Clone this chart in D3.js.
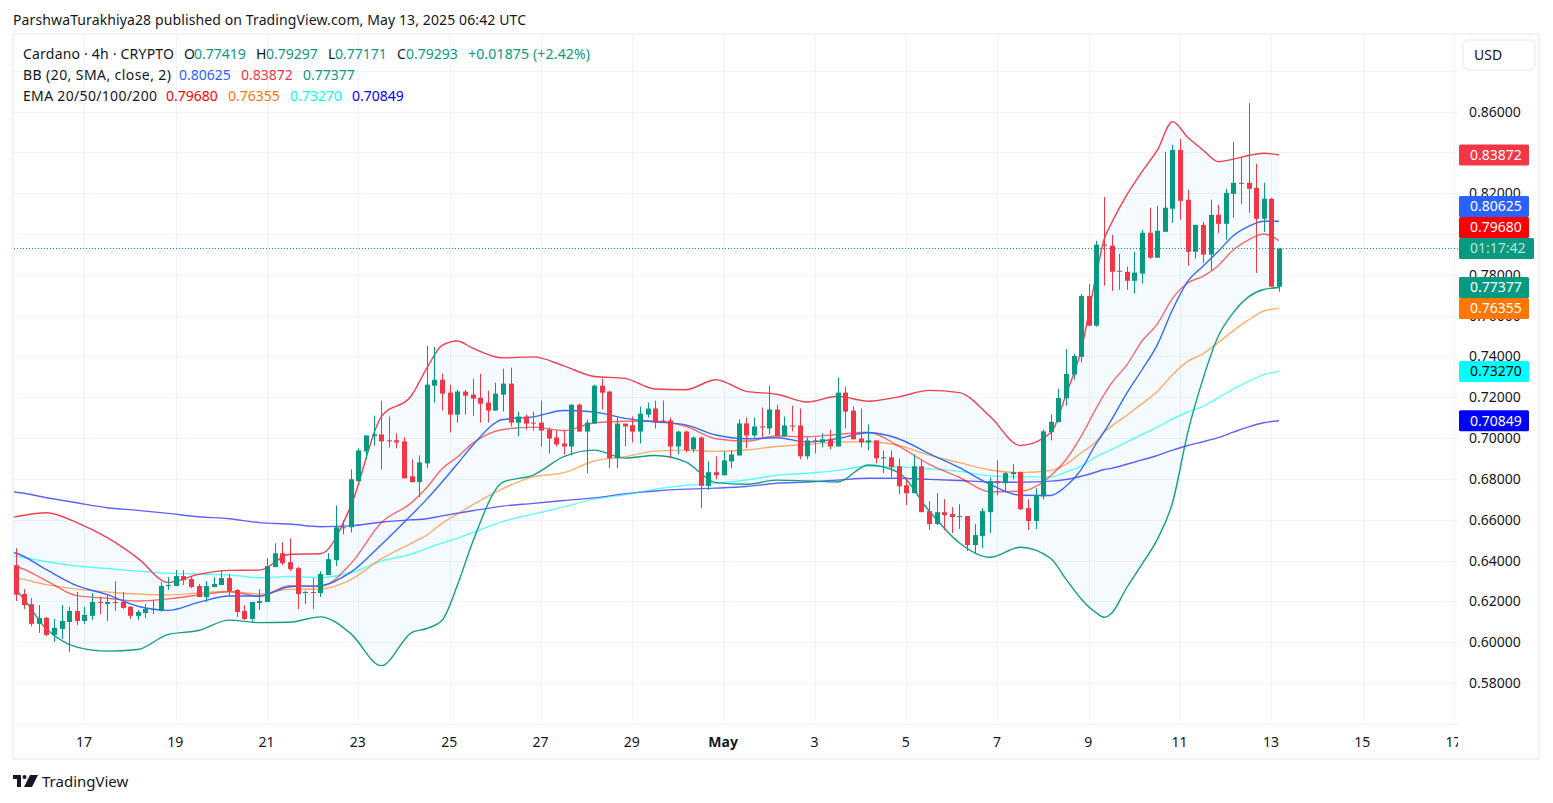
<!DOCTYPE html>
<html>
<head>
<meta charset="utf-8">
<script src="https://cdn.jsdelivr.net/npm/d3@7"></script>
<style>
  html, body { margin: 0; padding: 0; background: #fff; }
  svg { display: block; }
  text { font-family: "Noto Sans", sans-serif; fill: #131722; }
  .axis .domain, .axis line { display: none; }
</style>
</head>
<body>
<svg id="chart" width="1553" height="803"></svg>
<script>
// candles, 4h bars starting Apr 15 12:00 UTC
var opens = [.6377,.6236,.6186,.6090,.6119,.6036,.6065,.6099,.6153,.6104,.6129,.6197,.6187,.6197,.6197,.6173,.6129,.6143,.6158,.6153,
  .6275,.6275,.6324,.6309,.6275,.6221,.6270,.6280,.6314,.6256,.6153,.6114,.6192,.6197,.6368,.6436,.6392,.6363,.6241,.6246,
  .6241,.6329,.6402,.6558,.6563,.6789,.6935,.7010,.7018,.6989,.6989,.6984,.6813,.6784,.6876,.7257,.7286,.7223,.7115,.7228,
  .7213,.7198,.7174,.7135,.7213,.7267,.7076,.7106,.7076,.7076,.7042,.7003,.6974,.6959,.7164,.7032,.7071,.7257,.7228,.6901,
  .7071,.7063,.7032,.7115,.7145,.7086,.7086,.6959,.7032,.6945,.7003,.6766,.6833,.6818,.6886,.6915,.7072,.7013,.7057,.7047,
  .7140,.7010,.7062,.7062,.6911,.6989,.6979,.6994,.6959,.7223,.7135,.6998,.6979,.6989,.6901,.6906,.6862,.6769,.6730,.6862,
  .6642,.6579,.6637,.6628,.6613,.6618,.6476,.6520,.6637,.6789,.6779,.6823,.6833,.6657,.6594,.6715,.7029,.7078,.7195,.7311,
  .7398,.7696,.7551,.7948,.7943,.7820,.7815,.7771,.7806,.8006,.7884,.8011,.8124,.8412,.8168,.7913,.8045,.7899,.8094,.8050,
  .8197,.8251,.8251,.8226,.8075,.8173,.77419];
var highs = [.6460,.6260,.6216,.6182,.6124,.6114,.6182,.6173,.6246,.6173,.6241,.6223,.6231,.6299,.6246,.6177,.6158,.6187,.6207,.6295,
  .6319,.6353,.6353,.6324,.6285,.6299,.6319,.6353,.6334,.6260,.6182,.6197,.6260,.6412,.6485,.6490,.6509,.6368,.6251,.6314,
  .6348,.6436,.6670,.6597,.6847,.6950,.7013,.7110,.7184,.7106,.7023,.7003,.6896,.6915,.7452,.7447,.7315,.7262,.7237,.7237,
  .7291,.7315,.7232,.7271,.7340,.7345,.7130,.7115,.7130,.7184,.7052,.7037,.7037,.7164,.7169,.7091,.7262,.7291,.7232,.7101,
  .7071,.7106,.7154,.7174,.7184,.7184,.7101,.7037,.7037,.7008,.7008,.6886,.6911,.6935,.6940,.7091,.7101,.7101,.7150,.7257,
  .7164,.7106,.7159,.7145,.7003,.7003,.7023,.7042,.7296,.7252,.7155,.7145,.7067,.6989,.6940,.6940,.6901,.6808,.6920,.6896,
  .6691,.6730,.6701,.6662,.6676,.6618,.6579,.6657,.6808,.6891,.6833,.6872,.6837,.6701,.6754,.7042,.7115,.7242,.7436,.7413,
  .7706,.7754,.7967,.8182,.7996,.7903,.7840,.7913,.8021,.8129,.8138,.8403,.8437,.8466,.8217,.8045,.8060,.8168,.8143,.8222,
  .8452,.8378,.8642,.8344,.8251,.8177,.79297];
var lows = [.6202,.6163,.6077,.6046,.6030,.6002,.6015,.5953,.6085,.6090,.6109,.6138,.6104,.6153,.6163,.6114,.6109,.6119,.6138,.6150,
  .6256,.6275,.6280,.6265,.6221,.6197,.6270,.6280,.6226,.6124,.6109,.6099,.6158,.6197,.6368,.6377,.6348,.6163,.6187,.6163,
  .6221,.6329,.6373,.6529,.6538,.6789,.6896,.6964,.6847,.6954,.6950,.6803,.6784,.6711,.6852,.7174,.7135,.7028,.7076,.7115,
  .7110,.7076,.7076,.7135,.7130,.7057,.7008,.7042,.7037,.6959,.6925,.6959,.6920,.6915,.7032,.6828,.7071,.7140,.6852,.6852,
  .6959,.6979,.6974,.7101,.7047,.7076,.6901,.6920,.6930,.6930,.6657,.6746,.6798,.6818,.6852,.6915,.6950,.7003,.7003,.7018,
  .7010,.7010,.7033,.6896,.6896,.6925,.6955,.6945,.6959,.7047,.6994,.6955,.6940,.6876,.6828,.6808,.6725,.6672,.6730,.6637,
  .6550,.6574,.6550,.6535,.6555,.6447,.6433,.6462,.6535,.6720,.6740,.6798,.6647,.6550,.6555,.6701,.6989,.7078,.7159,.7286,
  .7371,.7551,.7546,.7747,.7722,.7727,.7727,.7708,.7757,.7879,.7884,.8011,.8055,.8070,.7845,.7879,.7859,.7820,.8006,.7972,
  .8080,.8148,.8104,.7810,.8011,.7742,.77171];
var closes = [.6233,.6182,.6090,.6119,.6036,.6070,.6104,.6153,.6104,.6134,.6197,.6192,.6197,.6192,.6168,.6129,.6148,.6163,.6163,.6275,
  .6280,.6324,.6304,.6270,.6221,.6275,.6285,.6314,.6251,.6148,.6114,.6197,.6202,.6373,.6436,.6387,.6358,.6236,.6246,.6241,
  .6334,.6407,.6563,.6563,.6798,.6940,.7013,.7018,.6984,.6984,.6979,.6803,.6784,.6881,.7262,.7286,.7218,.7115,.7228,.7208,
  .7193,.7169,.7135,.7218,.7267,.7076,.7106,.7071,.7071,.7037,.6998,.6969,.6959,.7164,.7032,.7076,.7257,.7223,.6901,.7071,
  .7057,.7032,.7120,.7145,.7076,.7081,.6959,.7032,.6940,.7003,.6766,.6833,.6818,.6891,.6920,.7072,.7013,.7057,.7052,.7140,
  .7010,.7062,.7057,.6911,.6989,.6984,.6994,.6959,.7223,.7130,.6994,.6979,.6989,.6901,.6906,.6857,.6764,.6730,.6862,.6637,
  .6579,.6637,.6623,.6613,.6618,.6476,.6525,.6642,.6789,.6779,.6828,.6833,.6652,.6594,.6720,.7033,.7080,.7197,.7315,.7403,
  .7696,.7551,.7948,.7943,.7815,.7815,.7771,.7811,.8006,.7884,.8016,.8129,.8412,.8163,.7913,.8045,.7899,.8094,.8050,.8202,
  .8251,.8246,.8222,.8075,.8173,.7742,.79293];

// indicator lines, read at these bar numbers
var lineBars = [-1,0,4,8,12,16,20,24,28,32,36,40,44,48,52,54,56,58,60,64,68,72,76,80,84,88,92,96,100,104,108,112,116,120,124,128,132,136,138,140,142,143,144,146,148,150,152,154,156,158,160,162,164,166];
var bbUpper = [.6608,.6615,.6634,.6586,.6512,.6412,.6293,.6332,.6352,.6353,.6431,.6433,.6667,.7104,.7210,.7343,.7454,.7476,.7441,.7393,.7398,.7354,.7302,.7293,.7241,.7237,.7286,.7229,.7215,.7177,.7205,.7181,.7202,.7234,.7223,.7107,.6964,.7026,.7213,.7433,.7804,.7972,.8054,.8192,.8306,.8411,.8551,.8474,.8412,.8355,.8367,.8385,.8396,.83872];
var bbLower = [.6273,.6252,.6065,.5976,.5956,.5964,.6038,.6057,.6108,.6096,.6098,.6124,.6042,.5885,.6047,.6067,.6107,.6278,.6489,.6784,.6819,.6909,.6941,.6902,.6915,.6884,.6782,.6774,.6794,.6790,.6785,.6868,.6831,.6644,.6486,.6416,.6465,.6410,.6309,.6212,.6143,.6122,.6142,.6268,.6382,.6504,.6683,.7026,.7289,.7498,.7615,.7692,.7728,.77377];
var bbBasis = [.6442,.6436,.6355,.6277,.6233,.6176,.6156,.6195,.6226,.6226,.6272,.6277,.6343,.6478,.6625,.6701,.6785,.6873,.6964,.7091,.7104,.7135,.7128,.7097,.7080,.7065,.7015,.6997,.7002,.6981,.6998,.7026,.6997,.6924,.6855,.6774,.6720,.6719,.6764,.6846,.6975,.7030,.7091,.7221,.7335,.7457,.7629,.7768,.7842,.7915,.7992,.8037,.8063,.80625];
var ema20 = [.6377,.6371,.6301,.6228,.6215,.6202,.6212,.6231,.6247,.6225,.6277,.6273,.6385,.6585,.6684,.6758,.6850,.6907,.6974,.7042,.7054,.7037,.7075,.7083,.7083,.7058,.6997,.6985,.7010,.7007,.7018,.7029,.6961,.6872,.6807,.6737,.6740,.6816,.6894,.7010,.7148,.7213,.7270,.7359,.7476,.7559,.7685,.7760,.7793,.7845,.7923,.7972,.8000,.79680];
var ema50 = [.6317,.6314,.6282,.6260,.6246,.6236,.6231,.6241,.6249,.6236,.6259,.6260,.6307,.6408,.6486,.6525,.6582,.6628,.6673,.6753,.6810,.6831,.6888,.6909,.6936,.6941,.6935,.6942,.6959,.6969,.6981,.6982,.6964,.6917,.6880,.6844,.6831,.6841,.6872,.6928,.6985,.7029,.7059,.7112,.7169,.7229,.7311,.7376,.7413,.7468,.7527,.7579,.7623,.76355];
var ema100 = [.6426,.6421,.6394,.6373,.6361,.6348,.6337,.6334,.6330,.6316,.6322,.6317,.6340,.6397,.6432,.6460,.6486,.6509,.6537,.6592,.6628,.6663,.6701,.6722,.6750,.6769,.6779,.6795,.6818,.6828,.6842,.6862,.6859,.6850,.6837,.6815,.6810,.6810,.6834,.6863,.6909,.6927,.6945,.6981,.7018,.7054,.7094,.7128,.7156,.7197,.7241,.7278,.7311,.73270];
var ema200 = [.6737,.6735,.6708,.6683,.6659,.6646,.6631,.6615,.6605,.6586,.6579,.6566,.6570,.6588,.6600,.6605,.6619,.6632,.6644,.6667,.6680,.6694,.6707,.6727,.6741,.6750,.6755,.6763,.6779,.6785,.6794,.6803,.6803,.6798,.6792,.6785,.6784,.6789,.6797,.6813,.6834,.6846,.6852,.6872,.6893,.6915,.6941,.6964,.6982,.7002,.7029,.7055,.7075,.70849];

var priceTicks = [.56,.58,.60,.62,.64,.66,.68,.70,.72,.74,.76,.78,.80,.82,.84,.86,.88];
// .80 and .84 sit fully behind their price tags
var priceLabels = [.58,.60,.62,.64,.66,.68,.70,.72,.74,.76,.78,.82,.86];
var dayTicks = [[3,17],[3,19],[3,21],[3,23],[3,25],[3,27],[3,29],[4,1],[4,3],[4,5],[4,7],[4,9],[4,11],[4,13],[4,15],[4,17]];

var firstBar = Date.UTC(2025, 3, 15, 12);
var barMs = 4 * 3600 * 1000;
var lastPrice = closes[closes.length - 1];

var paneLeft = 14, paneRight = 1458, paneTop = 35, paneBottom = 723;

var x = d3.scaleUtc()
  .domain([new Date(firstBar), new Date(firstBar + 166 * barMs)])
  .range([16, 1279]);
var y = d3.scaleLinear().domain([.86, .58]).range([111.6, 683]);

function barX(i) {
  return x(new Date(firstBar + i * barMs));
}

var svg = d3.select('#chart');
var defs = svg.append('defs');
defs.append('clipPath').attr('id', 'pane')
  .append('rect')
  .attr('x', paneLeft).attr('y', paneTop)
  .attr('width', paneRight - paneLeft).attr('height', paneBottom - paneTop);

// frame
svg.append('rect')
  .attr('x', 13).attr('y', 34).attr('width', 1526).attr('height', 725)
  .attr('fill', 'none').attr('stroke', '#f0f3fa').attr('stroke-width', 2);

// grid
var dayDates = dayTicks.map(function (d) { return new Date(Date.UTC(2025, d[0], d[1])); });
svg.append('g').selectAll('line').data(priceTicks).join('line')
  .attr('x1', paneLeft).attr('x2', paneRight)
  .attr('y1', function (d) { return Math.round(y(d)) + .5; })
  .attr('y2', function (d) { return Math.round(y(d)) + .5; })
  .attr('stroke', '#f0f3fa');
svg.append('g').selectAll('line').data(dayDates).join('line')
  .attr('x1', function (d) { return Math.round(x(d)) + .5; })
  .attr('x2', function (d) { return Math.round(x(d)) + .5; })
  .attr('y1', paneTop).attr('y2', paneBottom)
  .attr('stroke', '#f0f3fa');

var plot = svg.append('g').attr('clip-path', 'url(#pane)');

// bollinger fill and lines
var band = d3.area()
  .x(function (d, i) { return barX(lineBars[i]); })
  .y0(function (d, i) { return y(bbLower[i]); })
  .y1(function (d, i) { return y(bbUpper[i]); })
  .curve(d3.curveMonotoneX);
plot.append('path').datum(lineBars).attr('d', band).attr('fill', 'rgba(33,150,243,0.05)');

var line = d3.line()
  .x(function (d, i) { return barX(lineBars[i]); })
  .y(function (d) { return y(d); })
  .curve(d3.curveMonotoneX);

function drawLine(values, color, opacity) {
  plot.append('path').datum(values).attr('d', line)
    .attr('fill', 'none').attr('stroke', color)
    .attr('stroke-opacity', opacity).attr('stroke-width', 1.4);
}
drawLine(ema200, '#0000ff', .62);
drawLine(ema100, '#00ffff', .62);
drawLine(ema50, '#ff7700', .58);
drawLine(ema20, '#ff0000', .58);
drawLine(bbBasis, '#2962ff', .95);
drawLine(bbUpper, '#f23645', .95);
drawLine(bbLower, '#089981', .95);

// last price line
plot.append('line')
  .attr('x1', paneLeft).attr('x2', paneRight)
  .attr('y1', Math.round(y(lastPrice)) + .5).attr('y2', Math.round(y(lastPrice)) + .5)
  .attr('stroke', '#089981').attr('stroke-dasharray', '1 2');

// candles
var candles = plot.append('g').selectAll('g').data(opens).join('g')
  .attr('fill', function (d, i) { return closes[i] >= opens[i] ? '#089981' : '#f23645'; });
candles.append('rect')
  .attr('x', function (d, i) { return Math.round(barX(i)); })
  .attr('width', 1)
  .attr('y', function (d, i) { return y(highs[i]); })
  .attr('height', function (d, i) { return y(lows[i]) - y(highs[i]); });
candles.append('rect')
  .attr('x', function (d, i) { return Math.round(barX(i)) - 2; })
  .attr('width', 5)
  .attr('y', function (d, i) { return y(Math.max(opens[i], closes[i])); })
  .attr('height', function (d, i) { return Math.max(1, Math.abs(y(opens[i]) - y(closes[i]))); });

// axes
var timeAxis = d3.axisBottom(x)
  .tickValues(dayDates)
  .tickFormat(function (d) { return d.getUTCDate() === 1 ? 'May' : d.getUTCDate(); });
defs.append('clipPath').attr('id', 'timeClip')
  .append('rect').attr('x', 14).attr('y', 724).attr('width', 1444).attr('height', 32);
var timeG = svg.append('g').attr('clip-path', 'url(#timeClip)').append('g')
  .attr('class', 'axis').attr('transform', 'translate(-1,724)').call(timeAxis);
timeG.selectAll('text')
  .attr('font-size', 14).attr('y', 23).attr('dy', 0)
  .attr('font-weight', function (d) { return d.getUTCDate() === 1 ? 700 : 400; })
  .style('font-family', '"Noto Sans", sans-serif').style('fill', '#131722');

var priceAxis = d3.axisRight(y)
  .tickValues(priceLabels)
  .tickFormat(d3.format('.5f'));
var priceG = svg.append('g').attr('class', 'axis').attr('transform', 'translate(1458,0)').call(priceAxis);
priceG.selectAll('text')
  .attr('font-size', 14).attr('x', 11)
  .style('font-family', '"Noto Sans", sans-serif').style('fill', '#131722');

// price tags, pushed up when they would overlap
var tags = [
  { value: .83872, text: '0.83872', color: '#f23645', ink: '#fff' },
  { value: .80625, text: '0.80625', color: '#2962ff', ink: '#fff' },
  { value: .79680, text: '0.79680', color: '#ff0000', ink: '#fff' },
  { value: lastPrice, text: '01:17:42', color: '#089981', ink: '#b9e3da', wide: true },
  { value: .77377, text: '0.77377', color: '#089981', ink: '#fff' },
  { value: .76355, text: '0.76355', color: '#ff7700', ink: '#fff' },
  { value: .73270, text: '0.73270', color: '#00ffff', ink: '#000' },
  { value: .70849, text: '0.70849', color: '#0000ff', ink: '#fff' },
];
var tagH = 21, prevY = Infinity;
tags.slice().reverse().forEach(function (t) {
  t.y = Math.min(y(t.value), prevY - tagH);
  prevY = t.y;
});
var tagG = svg.append('g').selectAll('g').data(tags).join('g')
  .attr('transform', function (d) { return 'translate(1459,' + d.y + ')'; });
tagG.append('rect')
  .attr('y', -tagH / 2).attr('height', tagH)
  .attr('width', function (d) { return d.wide ? 75 : 70; })
  .attr('rx', 1.5)
  .attr('fill', function (d) { return d.color; });
tagG.append('text')
  .attr('x', 11).attr('dy', '.35em').attr('font-size', 14)
  .text(function (d) { return d.text; })
  .style('fill', function (d) { return d.ink; });

// currency button
svg.append('rect')
  .attr('x', 1463).attr('y', 40).attr('width', 72).attr('height', 30).attr('rx', 6)
  .attr('fill', '#fff').attr('stroke', '#f0f3fa').attr('stroke-width', 2);
svg.append('text').attr('x', 1474).attr('y', 60).attr('font-size', 14).text('USD');

// header and legend, last field stretches a text to the width it has in the reference
var up = '#089981';
var texts = [
  ['ParshwaTurakhiya28 published on TradingView.com, May 13, 2025 06:42 UTC', 13, 25, '#131722', 513],
  ['Cardano · 4h · CRYPTO', 23, 59, '#131722', 151],
  ['O', 184, 59, '#131722'], ['0.77419', 194, 59, up],
  ['H', 256, 59, '#131722'], ['0.79297', 266, 59, up],
  ['L', 328, 59, '#131722'], ['0.77171', 335, 59, up],
  ['C', 397, 59, '#131722'], ['0.79293', 406, 59, up],
  ['+0.01875 (+2.42%)', 468, 59, up, 122],
  ['BB (20, SMA, close, 2)', 23, 80, '#131722', 148],
  ['0.80625', 179, 80, '#2962ff'], ['0.83872', 241, 80, '#f23645'], ['0.77377', 303, 80, up],
  ['EMA 20/50/100/200', 23, 101, '#131722', 134],
  ['0.79680', 166, 101, '#ff0000'], ['0.76355', 228, 101, '#ff7700'],
  ['0.73270', 290, 101, '#00ffff'], ['0.70849', 352, 101, '#0000ff'],
];
svg.append('g').selectAll('text').data(texts).join('text')
  .attr('x', function (d) { return d[1]; })
  .attr('y', function (d) { return d[2]; })
  .attr('font-size', 14)
  .attr('textLength', function (d) { return d[4] || null; })
  .style('fill', function (d) { return d[3]; })
  .text(function (d) { return d[0]; });

// logo
var logo = svg.append('g').attr('transform', 'translate(13,775)').attr('fill', '#131722');
logo.append('path').attr('d', 'M0 0H8V12H4V4H0Z');
logo.append('circle').attr('cx', 11.5).attr('cy', 2).attr('r', 2);
logo.append('path').attr('d', 'M17 0H25L19 12H11Z');
svg.append('text').attr('x', 42).attr('y', 787).attr('font-size', 15).text('TradingView');
</script>
</body>
</html>
